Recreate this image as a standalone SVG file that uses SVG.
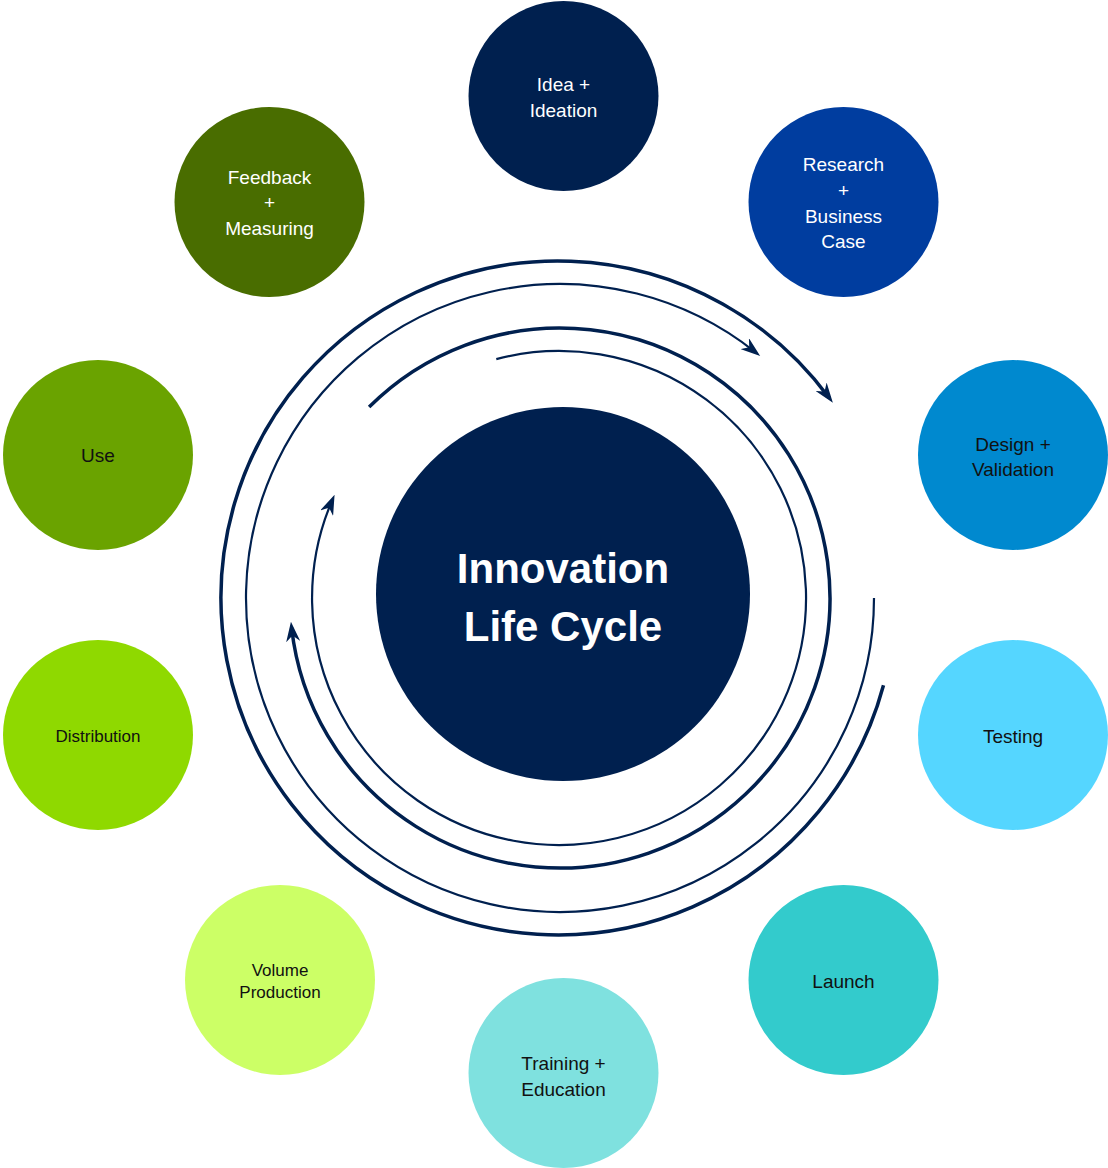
<svg xmlns="http://www.w3.org/2000/svg" width="1108" height="1168" viewBox="0 0 1108 1168">
  <style>
    .lbl { font-family: "Liberation Sans", Arial, sans-serif; font-size: 19px; text-anchor: middle; }
    .w { fill: #ffffff; }
    .k { fill: #111111; }
    .sm { font-size: 17px; }
    .title { font-family: "Liberation Sans", Arial, sans-serif; font-size: 42px; font-weight: bold; fill: #ffffff; text-anchor: middle; }
    .arc { fill: none; stroke: #00204f; }
    .thick { stroke-width: 3.5; }
    .thin { stroke-width: 2.2; }
  </style>
  <defs>
    <marker id="arrow" viewBox="0 0 20 14" markerWidth="20" markerHeight="14" refX="14" refY="7" orient="auto" markerUnits="userSpaceOnUse">
      <path d="M0,0 L20,7 L0,14 L6,7 z" fill="#00204f"/>
    </marker>
  </defs>
  <rect width="1108" height="1168" fill="#ffffff"/>

  <g id="connectors">
    <path class="arc thick" d="M883.5,685.2 A337,337 0 1 1 829.3,398.0" marker-end="url(#arrow)"/>
    <path class="arc thin" d="M874,598 A314,314 0 1 1 755.5,352.3" marker-end="url(#arrow)"/>
    <path class="arc thick" d="M369.1,407.1 A270,270 0 1 1 291.6,627.6" marker-end="url(#arrow)"/>
    <path class="arc thin" d="M496.3,359.1 A247,247 0 1 1 332.2,500.3" marker-end="url(#arrow)"/>
  </g>

  <g id="center">
    <circle cx="563" cy="594" r="187" fill="#00204f"/>
    <text class="title" x="563" y="583">Innovation</text>
    <text class="title" x="563" y="641">Life Cycle</text>
  </g>

  <g id="idea">
    <circle cx="563.5" cy="96" r="95" fill="#00204f"/>
    <text class="lbl w" x="563.5" y="90.5">Idea +</text>
    <text class="lbl w" x="563.5" y="116.5">Ideation</text>
  </g>

  <g id="research">
    <circle cx="843.5" cy="202" r="95" fill="#003d9f"/>
    <text class="lbl w" x="843.5" y="170.5">Research</text>
    <text class="lbl w" x="843.5" y="196.5">+</text>
    <text class="lbl w" x="843.5" y="222.5">Business</text>
    <text class="lbl w" x="843.5" y="247.5">Case</text>
  </g>

  <g id="design">
    <circle cx="1013" cy="455" r="95" fill="#0089cf"/>
    <text class="lbl k" x="1013" y="450.5">Design +</text>
    <text class="lbl k" x="1013" y="475.5">Validation</text>
  </g>

  <g id="testing">
    <circle cx="1013" cy="735" r="95" fill="#55d6ff"/>
    <text class="lbl k" x="1013" y="742.5">Testing</text>
  </g>

  <g id="launch">
    <circle cx="843.5" cy="980" r="95" fill="#33cbcc"/>
    <text class="lbl k" x="843.5" y="987.5">Launch</text>
  </g>

  <g id="training">
    <circle cx="563.5" cy="1073" r="95" fill="#7fe1df"/>
    <text class="lbl k" x="563.5" y="1069.5">Training +</text>
    <text class="lbl k" x="563.5" y="1095.5">Education</text>
  </g>

  <g id="volume">
    <circle cx="280" cy="980" r="95" fill="#ccff66"/>
    <text class="lbl k sm" x="280" y="976">Volume</text>
    <text class="lbl k sm" x="280" y="998">Production</text>
  </g>

  <g id="distribution">
    <circle cx="98" cy="735" r="95" fill="#8fd900"/>
    <text class="lbl k sm" x="98" y="742">Distribution</text>
  </g>

  <g id="use">
    <circle cx="98" cy="455" r="95" fill="#6aa300"/>
    <text class="lbl k" x="98" y="462">Use</text>
  </g>

  <g id="feedback">
    <circle cx="269.5" cy="202" r="95" fill="#496d00"/>
    <text class="lbl w" x="269.5" y="183.5">Feedback</text>
    <text class="lbl w" x="269.5" y="208.5">+</text>
    <text class="lbl w" x="269.5" y="234.5">Measuring</text>
  </g>
</svg>
